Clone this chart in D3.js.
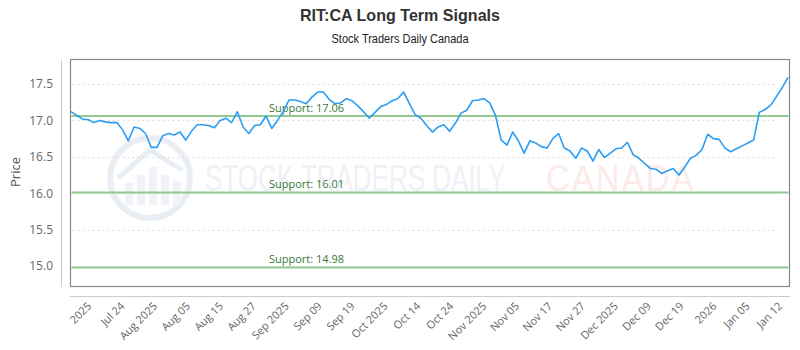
<!DOCTYPE html>
<html>
<head>
<meta charset="utf-8">
<script src="https://cdn.jsdelivr.net/npm/d3@7"></script>
<style>
  html, body { margin: 0; padding: 0; background: #fff; }
  svg { display: block; }
</style>
</head>
<body>
<svg id="chart" width="800" height="350"></svg>
<script>
// ---- data ----
const prices = [
  17.12, 17.07, 17.02, 17.01, 16.97, 17.00, 16.98, 16.97, 16.97, 16.87,
  16.72, 16.91, 16.89, 16.82, 16.63, 16.63, 16.79, 16.82, 16.80, 16.84,
  16.73, 16.85, 16.94, 16.94, 16.93, 16.90, 17.00, 17.03, 16.97, 17.12,
  16.91, 16.82, 16.93, 16.94, 17.06, 16.89, 17.00, 17.12, 17.28, 17.28,
  17.26, 17.23, 17.32, 17.39, 17.39, 17.29, 17.23, 17.24, 17.30, 17.27,
  17.20, 17.12, 17.03, 17.11, 17.19, 17.22, 17.27, 17.30, 17.39, 17.23,
  17.08, 17.03, 16.93, 16.84, 16.91, 16.94, 16.85, 16.96, 17.10, 17.14,
  17.27, 17.28, 17.30, 17.24, 17.07, 16.73, 16.66, 16.84, 16.72, 16.55,
  16.72, 16.69, 16.64, 16.62, 16.75, 16.82, 16.62, 16.58, 16.48, 16.62,
  16.58, 16.44, 16.60, 16.49, 16.55, 16.61, 16.62, 16.70, 16.53, 16.48,
  16.41, 16.34, 16.33, 16.27, 16.31, 16.34, 16.25, 16.36, 16.48, 16.52,
  16.60, 16.81, 16.75, 16.74, 16.62, 16.57, 16.61, 16.65, 16.69, 16.73,
  17.11, 17.15, 17.21, 17.33, 17.45, 17.59
];
const xLabels = ["2025", "Jul 24", "Aug 2025", "Aug 05", "Aug 15", "Aug 27",
  "Sep 2025", "Sep 09", "Sep 19", "Oct 2025", "Oct 14", "Oct 24", "Nov 2025",
  "Nov 05", "Nov 17", "Nov 27", "Dec 2025", "Dec 09", "Dec 19", "2026",
  "Jan 05", "Jan 12"];
const yTicks = [15.0, 15.5, 16.0, 16.5, 17.0, 17.5];
const supports = [17.06, 16.01, 14.98];
const titleText = "RIT:CA Long Term Signals";
const subtitleText = "Stock Traders Daily Canada";

// ---- layout ----
const svg = d3.select("#chart");
const plot = { left: 70.5, right: 789.5, top: 59.5, bottom: 286.5 };
const narrow = "'Liberation Sans', 'DejaVu Sans', sans-serif";
const axisFont = "'Open Sans', 'Noto Sans', sans-serif";

const x = d3.scaleLinear().domain([0, prices.length - 1]).range([71, 788]);
const y = d3.scaleLinear().domain([14.718, 17.837]).range([plot.bottom, plot.top]);
const xl = d3.scalePoint().domain(xLabels).range([89, 780]);

// title
svg.append("text").attr("x", 400).attr("y", 21).attr("text-anchor", "middle")
  .attr("textLength", 200).attr("lengthAdjust", "spacingAndGlyphs")
  .style("font-family", narrow).style("font-weight", "bold").style("font-size", "17px")
  .attr("fill", "#333").text(titleText);
svg.append("text").attr("x", 400).attr("y", 43).attr("text-anchor", "middle")
  .attr("textLength", 137).attr("lengthAdjust", "spacingAndGlyphs")
  .style("font-family", narrow).style("font-size", "12px")
  .attr("fill", "#222").text(subtitleText);

// watermark
const wm = svg.append("g");
wm.append("circle").attr("cx", 150).attr("cy", 178).attr("r", 40)
  .attr("fill", "none").attr("stroke", "#e9edf4").attr("stroke-width", 6);
[[125, 22], [137, 30], [149, 38], [161, 30], [173, 24]].forEach(([bx, bh]) => {
  wm.append("rect").attr("x", bx).attr("y", 205 - bh).attr("width", 8).attr("height", bh).attr("fill", "#eff2f7");
});
wm.append("path").attr("d", "M118,178 L150,150 L182,170").attr("fill", "none")
  .attr("stroke", "#e9edf4").attr("stroke-width", 5);
wm.append("text").attr("transform", "translate(205,191) scale(1,1.4)")
  .style("font-family", narrow).style("font-size", "26px")
  .attr("fill", "#eef1f6").text("STOCK TRADERS DAILY");
wm.append("text").attr("transform", "translate(546,191) scale(1,1.1)")
  .style("font-family", narrow).style("font-size", "33px").style("letter-spacing", "2px")
  .attr("fill", "#fdeaea").text("CANADA");

// grid
svg.append("g").selectAll("line").data(yTicks).join("line")
  .attr("x1", plot.left + 2).attr("x2", plot.right - 12)
  .attr("y1", d => Math.round(y(d)) + 0.5).attr("y2", d => Math.round(y(d)) + 0.5)
  .attr("stroke", "#dddddd").attr("stroke-dasharray", "2,3");

// frame
svg.append("rect").attr("x", plot.left).attr("y", plot.top)
  .attr("width", plot.right - plot.left).attr("height", plot.bottom - plot.top)
  .attr("fill", "none").attr("stroke", "#888").attr("stroke-width", 1.2);

// outer axis lines
svg.append("line").attr("x1", 61.5).attr("x2", 61.5).attr("y1", 60).attr("y2", 287)
  .attr("stroke", "#ccc");
svg.append("line").attr("x1", 70).attr("x2", 790).attr("y1", 296.5).attr("y2", 296.5)
  .attr("stroke", "#ccc");

// y axis labels
const yAxis = d3.axisLeft(y).tickValues(yTicks).tickFormat(d3.format(".1f")).tickSize(0).tickPadding(0);
const yg = svg.append("g").attr("transform", "translate(53,0)").call(yAxis);
yg.select(".domain").remove();
yg.selectAll("text").style("font-family", axisFont).style("font-size", "12px").attr("fill", "#666");

svg.append("text").attr("transform", "translate(20,172) rotate(-90)").attr("text-anchor", "middle")
  .style("font-family", axisFont).style("font-size", "13px").attr("fill", "#555").text("Price");

// x axis labels
const xAxis = d3.axisBottom(xl).tickSize(0).tickPadding(0);
const xg = svg.append("g").attr("transform", "translate(0,304)").call(xAxis);
xg.select(".domain").remove();
xg.selectAll("text")
  .attr("text-anchor", "end").attr("dy", "0.35em").attr("y", 0)
  .attr("transform", "rotate(-45)")
  .style("font-family", axisFont).style("font-size", "11px").attr("fill", "#666");

// support lines
const sg = svg.append("g");
sg.selectAll("line").data(supports).join("line")
  .attr("x1", plot.left + 1).attr("x2", plot.right - 1)
  .attr("y1", d => y(d)).attr("y2", d => y(d))
  .attr("stroke", "#93c893").attr("stroke-width", 2);
sg.selectAll("text").data(supports).join("text")
  .attr("x", 269).attr("y", d => y(d) - 4)
  .style("font-family", axisFont).style("font-size", "11px")
  .attr("fill", "#357a35").text(d => "Support: " + d.toFixed(2));

// price line
const line = d3.line().x((d, i) => x(i)).y(d => y(d));
svg.append("path").datum(prices).attr("d", line)
  .attr("fill", "none").attr("stroke", "#2a9df4").attr("stroke-width", 1.6)
  .attr("stroke-linejoin", "round");
</script>
</body>
</html>
